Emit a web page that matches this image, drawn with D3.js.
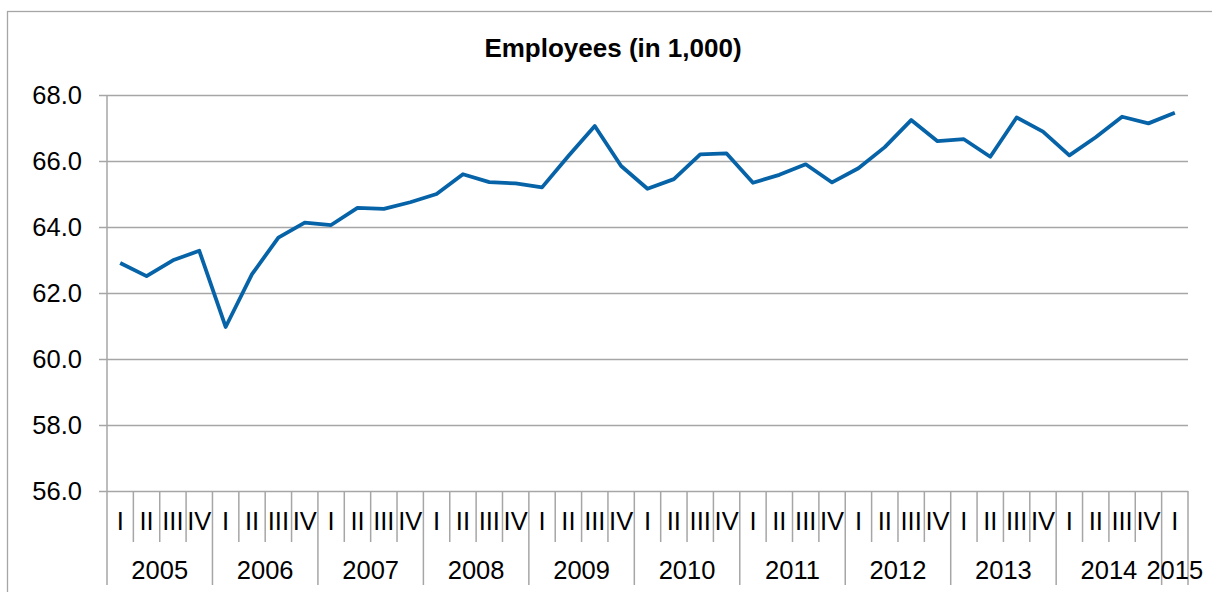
<!DOCTYPE html>
<html>
<head>
<meta charset="utf-8">
<script src="https://cdn.jsdelivr.net/npm/d3@7"></script>
<style>
  body { margin: 0; background: #fff; }
  text { font-family: "Liberation Sans", Arial, sans-serif; fill: #000; }
</style>
</head>
<body>
<div id="chart"></div>
<script>
(function() {

// quarterly data, 2005 I .. 2015 I
var years        = [2005, 2006, 2007, 2008, 2009, 2010, 2011, 2012, 2013, 2014, 2015];
var quarterNames = ["I", "II", "III", "IV"];
var employees    = [62.91, 62.51, 62.99, 63.28,
                    60.97, 62.57, 63.68, 64.13,
                    64.06, 64.58, 64.55, 64.75,
                    65.00, 65.60, 65.36, 65.32,
                    65.20, 66.15, 67.06, 65.85,
                    65.16, 65.45, 66.20, 66.23,
                    65.34, 65.58, 65.90, 65.35,
                    65.78, 66.42, 67.24, 66.60,
                    66.66, 66.13, 67.32, 66.89,
                    66.17, 66.72, 67.34, 67.14,
                    67.46];
var yTicks = [56, 58, 60, 62, 64, 66, 68];

var width = 1212, height = 592;
var plot = {left: 107, right: 1188, top: 95, bottom: 491};
var fontSize = 25.5;

/**
 * Build the category list (one entry per quarter) from the years.
 */
var categories = [];
employees.forEach(function(v, i) {
    categories.push({ year: years[Math.floor(i / 4)],
                      quarter: quarterNames[i % 4],
                      value: v,
                      i: i });
});

var svg = d3.select("#chart").append("svg")
            .attr("width", width)
            .attr("height", height);

// outer frame
svg.append("rect")
   .attr("x", 7.5).attr("y", 11.5)
   .attr("width", width).attr("height", height)
   .attr("fill", "none")
   .attr("stroke", "#a6a6a6")
   .attr("stroke-width", 1.3);

svg.append("text")
   .text("Employees (in 1,000)")
   .attr("x", 613).attr("y", 57)
   .attr("text-anchor", "middle")
   .attr("font-weight", "bold")
   .attr("font-size", 26);

var xScale = d3.scaleBand()
               .domain(d3.range(categories.length))
               .range([plot.left, plot.right]);
var yScale = d3.scaleLinear()
               .domain([56, 68])
               .range([plot.bottom, plot.top]);

// y axis with gridlines
var yAxis = d3.axisLeft(yScale)
              .tickValues(yTicks)
              .tickFormat(d3.format(".1f"))
              .tickSizeInner(-(plot.right - plot.left))
              .tickSizeOuter(0)
              .tickPadding(25);
var yGroup = svg.append("g")
                .attr("class", "y-axis")
                .attr("transform", "translate(" + plot.left + ",0)")
                .call(yAxis);
yGroup.select(".domain").remove();
yGroup.selectAll(".tick line")
      .attr("x1", -8)
      .attr("stroke", "#a6a6a6")
      .attr("stroke-width", 1.5);
yGroup.selectAll(".tick text")
      .attr("font-size", fontSize)
      .attr("font-family", "Liberation Sans, Arial, sans-serif")
      .attr("fill", "#000");

// category axis: boundaries between quarters and years
var xAxis = svg.append("g").attr("class", "x-axis");
var boundaries = d3.range(categories.length + 1);
xAxis.selectAll("line.qtick")
     .data(boundaries)
     .enter().append("line")
     .attr("class", "qtick")
     .attr("x1", function(d) { return d < categories.length ? xScale(d) : plot.right; })
     .attr("x2", function(d) { return d < categories.length ? xScale(d) : plot.right; })
     .attr("y1", function(d) { return d === 0 ? plot.top : plot.bottom; })
     .attr("y2", function(d) { return (d % 4 === 0 || d === categories.length) ? 585 : 542; })
     .attr("stroke", "#a6a6a6")
     .attr("stroke-width", 1.5);

xAxis.selectAll("text.quarter")
     .data(categories)
     .enter().append("text")
     .attr("class", "quarter")
     .attr("x", function(d) { return xScale(d.i) + xScale.bandwidth() / 2; })
     .attr("y", 530)
     .attr("text-anchor", "middle")
     .attr("font-size", fontSize)
     .text(function(d) { return d.quarter; });

var yearGroups = d3.groups(categories, function(d) { return d.year; });
xAxis.selectAll("text.year")
     .data(yearGroups)
     .enter().append("text")
     .attr("class", "year")
     .attr("x", function(g) {
         var items = g[1];
         return (xScale(items[0].i) + xScale(items[items.length - 1].i) + xScale.bandwidth()) / 2;
     })
     .attr("y", 579)
     .attr("text-anchor", "middle")
     .attr("font-size", fontSize)
     .text(function(g) { return g[0]; });

// the data line
var line = d3.line()
             .x(function(d) { return xScale(d.i) + xScale.bandwidth() / 2; })
             .y(function(d) { return yScale(d.value); });

svg.append("path")
   .datum(categories)
   .attr("d", line)
   .attr("fill", "none")
   .attr("stroke", "#0763a7")
   .attr("stroke-width", 3.8)
   .attr("stroke-linejoin", "round");

})();
</script>
</body>
</html>
